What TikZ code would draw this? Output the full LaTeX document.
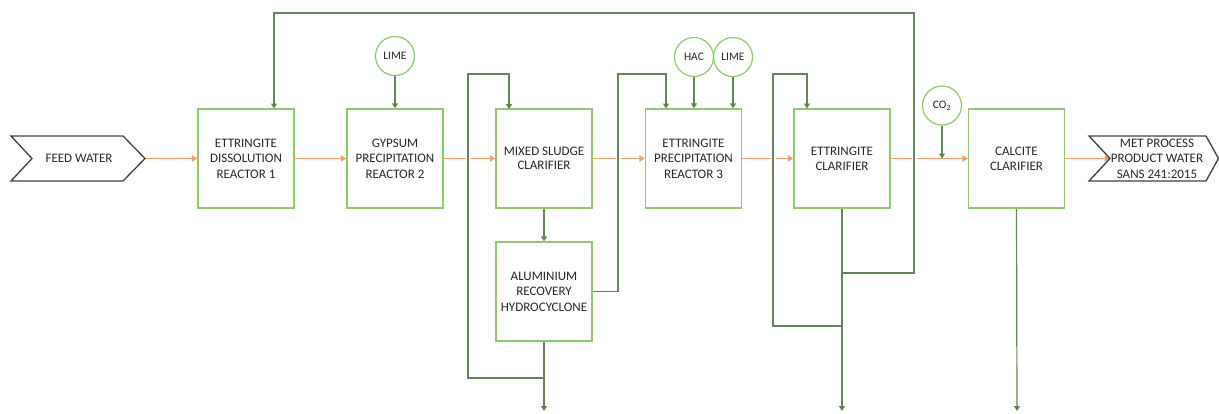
\documentclass[tikz,border=0pt]{standalone}
\usepackage{fontspec}
\setmainfont{Carlito}
\usetikzlibrary{arrows.meta,backgrounds}
\definecolor{boxgreen}{HTML}{8CCB68}
\definecolor{linegreen}{HTML}{66845A}
\definecolor{tipgreen}{HTML}{4A6B3A}
\definecolor{flow}{HTML}{F5A067}
\begin{document}
\begin{tikzpicture}[x=1pt,y=-1pt,
  unit/.style={draw=boxgreen, line width=1.4pt, minimum width=96pt, minimum height=99pt,
    align=center, inner sep=0pt, text=black!85, font=\fontsize{13}{15.6}\selectfont},
  dose/.style={circle, draw=boxgreen, line width=1.2pt, minimum size=39pt, inner sep=0pt,
    text=black!85, font=\fontsize{11.5}{12}\selectfont},
  label/.style={align=center, inner sep=0pt, text=black!85, font=\fontsize{13}{15.6}\selectfont},
  chevron/.style={draw=black!75, line width=1.3pt, line join=miter},
  flowline/.style={draw=flow, line width=1.7pt, -{Triangle[width=6.5pt,length=5.5pt]}},
  recycle/.style={draw=linegreen, line width=1.2pt, -{Triangle[width=6pt,length=5pt,fill=tipgreen]},
    preaction={draw=white, line width=5pt, -}},
  stream/.style={draw=linegreen, line width=1.2pt, -{Triangle[width=6pt,length=5pt,fill=tipgreen]}}
]
\useasboundingbox (0,0) rectangle (1219,413);

% input / output chevrons
\draw[chevron] (11,136) -- (123,136) -- (145,158.5) -- (123,181) -- (11,181) -- (32,158.5) -- cycle;
\node[label] (feed) at (79,158.5) {FEED WATER};
\coordinate (feedtip) at (145,158.5);
\draw[chevron] (1089,136) -- (1206,136) -- (1218.5,158.5) -- (1206,181) -- (1089,181) -- (1110,158.5) -- cycle;
\node[label] (out) at (1157,158.5) {MET PROCESS\\PRODUCT WATER\\SANS 241:2015};
\coordinate (outnotch) at (1110,158.5);

% process units
\node[unit] (r1) at (246,158.5) {ETTRINGITE\\DISSOLUTION\\REACTOR 1};
\node[unit] (r2) at (395,158.5) {GYPSUM\\PRECIPITATION\\REACTOR 2};
\node[unit, font=\fontsize{13}{14.5}\selectfont] (msc) at (544,158.5) {MIXED SLUDGE\\CLARIFIER};
\node[unit] (r3) at (693.5,158.5) {ETTRINGITE\\PRECIPITATION\\REACTOR 3};
\node[unit, font=\fontsize{13}{15}\selectfont] (ec) at (842,158.5) {ETTRINGITE\\CLARIFIER};
\node[unit, font=\fontsize{13}{15}\selectfont] (cc) at (1016.5,158.5) {CALCITE\\CLARIFIER};
\node[unit] (hc) at (544,291.5) {ALUMINIUM\\RECOVERY\\HYDROCYCLONE};

% dosing
\node[dose] (lime1) at (395,56) {LIME};
\node[dose] (hac) at (694,57) {HAC};
\node[dose] (lime2) at (733,57) {LIME};
\node[dose] (co2) at (942,105.5) {CO\textsubscript{2}};

% junctions and sinks
\coordinate (j1) at (544,378);
\coordinate (j2) at (842,326);
\coordinate (j3) at (842,273);
\coordinate (s1) at (544,411);
\coordinate (s2) at (842,411);
\coordinate (s3) at (1017,411);

\begin{pgfonlayer}{background}
% main flow
\draw[flowline] (feedtip) -- (r1.west);
\draw[flowline] (r1.east) -- (r2.west);
\draw[flowline] (r2.east) -- (msc.west);
\draw[flowline] (msc.east) -- (r3.west);
\draw[flowline] (r3.east) -- (ec.west);
\draw[flowline] (ec.east) -- (cc.west);
\draw[flowline] (cc.east) -- (outnotch);

% recycles
\draw[recycle] (j1) -- (468,378) -- (468,74) -- (509,74) -- (509,109);
\draw[recycle] (hc.east) -- (618,291.5) -- (618,74) -- (666,74) -- (666,108.5);
\draw[recycle] (j2) -- (773,326) -- (773,74) -- (807,74) -- (807,108.5);
\draw[recycle] (j3) -- (914,273) -- (914,13) -- (274,13) -- (274,108.5);

% streams
\draw[stream] (msc.south) -- (hc.north);
\draw[stream] (hc.south) -- (s1);
\draw[stream] (ec.south) -- (s2);
\draw[stream] (cc.south) -- (s3);

% dosing lines
\draw[stream] (lime1.south) -- (r2.north);
\draw[stream] (hac.south) -- (hac.south |- r3.north);
\draw[stream] (lime2.south) -- (lime2.south |- r3.north);
\draw[stream] (co2.south) -- (co2.south |- cc.west);
\end{pgfonlayer}
\end{tikzpicture}
\end{document}
